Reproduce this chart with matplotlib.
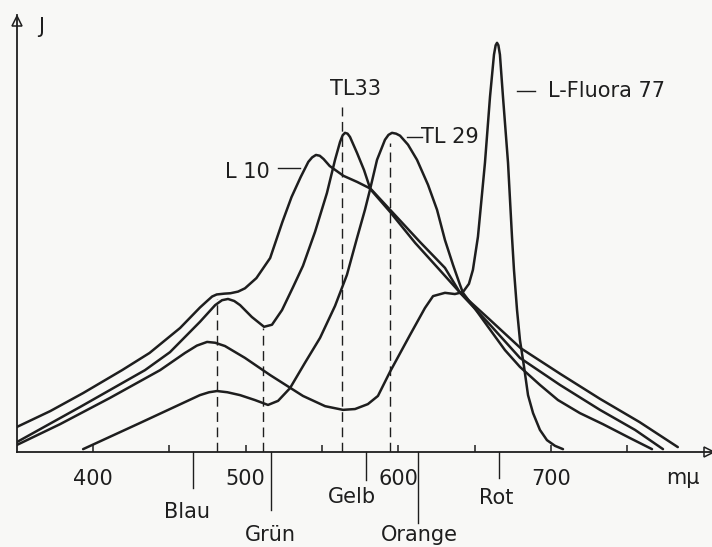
import matplotlib
matplotlib.use("Agg")
import matplotlib.pyplot as plt

# ---------------- data (wavelength in mµ, relative intensity J) ----------------
l10_wl = [350, 372, 393.5, 419, 437, 457, 470, 475, 478, 481, 486, 490, 495, 499.5, 507,
          516, 524, 530, 536, 541, 543.5, 546, 548.5, 551, 555, 564, 573, 581, 594.5, 611,
          627, 640, 660, 680, 706, 732, 758, 783]
l10_j = [6.1, 10.0, 14.4, 20.0, 24.2, 30.3, 35.3, 37.0, 38.0, 38.5, 38.7, 38.8, 39.2, 40.0,
         42.5, 47.4, 56.2, 62.3, 67.2, 70.9, 72.0, 72.6, 72.4, 71.6, 69.9, 67.5, 66.0, 64.5,
         58.7, 51.1, 44.5, 39.1, 32.3, 25.4, 19.1, 13.0, 7.3, 1.2]

tl33_wl = [350, 391.5, 434, 450.4, 470, 480, 484.5, 488.4, 492.5, 496.3, 504, 512, 517.2,
           523.8, 531, 537.5, 545.4, 553.2, 558.5, 561.8, 563.5, 565, 566.7, 568.3, 572.9,
           577.5, 581.4, 597.8, 614.2, 630.5, 640.4, 660, 679.6, 705.8, 732, 755, 773.3]
tl33_j = [2.4, 11.0, 20.0, 24.4, 31.8, 35.9, 37.1, 37.4, 36.9, 35.9, 33.0, 30.6, 31.1,
          34.7, 40.3, 45.5, 53.8, 63.3, 71.4, 75.8, 77.4, 78.0, 77.8, 77.0, 73.1,
          68.9, 64.5, 57.9, 51.3, 45.0, 38.9, 31.1, 23.0, 16.4, 10.3, 5.4, 0.7]

tl29_wl = [393.5, 430.8, 470, 476, 481.2, 488, 496.3, 506, 514.6, 521.2, 529, 538.8, 548.7,
           558.5, 566.3, 572.9, 578.1, 581.4, 586, 591.2, 593.5, 595.8, 598.5, 601.1, 606.3,
           612.2, 619.4, 625.3, 630.5, 635.8, 640.4, 642.3, 650.2, 658.7, 669.8, 679.6,
           692.7, 704.5, 718.9, 734, 751.7, 766.1]
tl29_j = [0.7, 7.1, 13.9, 14.6, 14.9, 14.6, 13.9, 12.7, 11.5, 12.5, 15.6, 21.8, 27.9,
          35.7, 43.3, 52.3, 59.2, 64.1, 71.4, 76.3, 77.5, 78.0, 77.8, 77.3, 75.1,
          71.4, 65.3, 59.2, 51.8, 45.7, 40.8, 38.9, 35.0, 30.6, 24.9, 20.8,
          16.4, 12.7, 9.5, 6.8, 3.4, 0.7]

fluora_wl = [350, 378.4, 411, 443.9, 460.2, 468, 474.7, 480, 486.4, 499.5, 516, 537.5, 552,
             563.7, 571.6, 580, 586.6, 594.5, 607.6, 617.4, 622.7, 630.5, 637, 642.3,
             646.2, 648.8, 652.1, 654.7, 656.7, 660, 662.6, 663.7, 664.6, 665.5, 666.5,
             668.5, 671.8, 674.4, 675.7, 677.7, 679.6, 682.3, 684.9, 688.2, 692.7, 697.3,
             702.6, 707.8]
fluora_j = [1.7, 6.8, 13.2, 20.0, 24.2, 26.0, 26.9, 26.7, 25.9, 23.0, 18.8, 13.7, 11.2,
            10.3, 10.5, 11.7, 13.7, 19.6, 28.6, 35.2, 38.1, 38.9, 38.6, 39.1,
            41.1, 44.5, 52.6, 62.8, 70.7, 86.8, 97.1, 99.4, 100.0, 99.4, 97.1,
            86.8, 70.7, 52.6, 44.5, 34.7, 27.4, 20.8, 13.9, 9.5, 5.4, 2.9,
            1.5, 0.7]

# dashed marker lines (wavelength, top J)
dash_wl = [481.2, 511.3, 563.1, 594.5]
dash_top = [37.5, 30.3, 84.4, 75.6]

# colour bands below the axis
band_names = ["Blau", "Grün", "Gelb", "Orange", "Rot"]
band_wl = [465.5, 516.6, 578.8, 612.8, 665.9]
band_line_end = [-8.8, -14.2, -6.8, -17.4, -6.4]
band_label_wl = [461.6, 515.9, 569.5, 614.0, 663.9]
band_label_j = [-14.7, -20.3, -11.0, -20.3, -11.2]

tick_pos = [400, 450, 500, 550, 600, 650, 700, 750]
tick_lab = ["400", "", "500", "", "600", "", "700", ""]

# ---------------- figure ----------------
BG = "#f8f8f6"
INK = "#1e1e1e"
FS = 15

fig = plt.figure(figsize=(7.12, 5.47), dpi=100, facecolor=BG)
ax = fig.add_axes([17 / 712, (547 - 452) / 547, (712 - 17) / 712, (452 - 15) / 547])
ax.set_facecolor(BG)
xmin, xmax = 350.2, 805.4
ymax = 106.8
ax.set_xlim(xmin, xmax)
ax.set_ylim(0, ymax)

for s in ["top", "right"]:
    ax.spines[s].set_visible(False)
for s in ["left", "bottom"]:
    ax.spines[s].set_linewidth(1.3)
    ax.spines[s].set_color(INK)

ax.set_yticks([])
ax.set_xticks(tick_pos)
ax.set_xticklabels(tick_lab)
ax.tick_params(axis="x", direction="in", length=5, width=1.1, color=INK,
               labelsize=FS, labelcolor=INK, pad=12)

lw = 1.8
for wl, j in [(l10_wl, l10_j), (tl33_wl, tl33_j), (tl29_wl, tl29_j), (fluora_wl, fluora_j)]:
    ax.plot(wl, j, color=INK, lw=lw, solid_joinstyle="round", solid_capstyle="round")

for wl, top in zip(dash_wl, dash_top):
    ax.plot([wl, wl], [0, top], color=INK, lw=1.0, dashes=(7, 4))

# colour band markers
for name, wl, end, lwl, lj in zip(band_names, band_wl, band_line_end, band_label_wl, band_label_j):
    ax.plot([wl, wl], [0, end], color=INK, lw=1.0, clip_on=False)
    ax.text(lwl, lj, name, ha="center", va="center", fontsize=FS, color=INK, clip_on=False)

# axis arrows
ax.plot([xmin], [105.3], marker="^", ms=7, mfc=BG, mec=INK, mew=1.1, clip_on=False)
ax.plot([803.5], [0], marker=">", ms=7, mfc=BG, mec=INK, mew=1.1, clip_on=False)

# axis labels
ax.text(365.9, 103.9, "J", ha="center", va="center", fontsize=FS, color=INK, clip_on=False)
ax.text(786.4, -6.4, "mμ", ha="center", va="center", fontsize=FS, color=INK, clip_on=False)

# curve labels with leader dashes
ax.text(500.9, 68.5, "L 10", ha="center", va="center", fontsize=FS, color=INK)
ax.plot([521.2, 535.6], [69.4, 69.4], color=INK, lw=1.0)
ax.text(572.2, 88.8, "TL33", ha="center", va="center", fontsize=FS, color=INK)
ax.text(633.8, 77.0, "TL 29", ha="center", va="center", fontsize=FS, color=INK)
ax.plot([605.6, 615.5], [77.0, 77.0], color=INK, lw=1.0)
ax.text(736.0, 88.3, "L-Fluora 77", ha="center", va="center", fontsize=FS, color=INK)
ax.plot([677.7, 689.5], [88.3, 88.3], color=INK, lw=1.0)

fig.savefig("out.png", dpi=100, facecolor=BG)
